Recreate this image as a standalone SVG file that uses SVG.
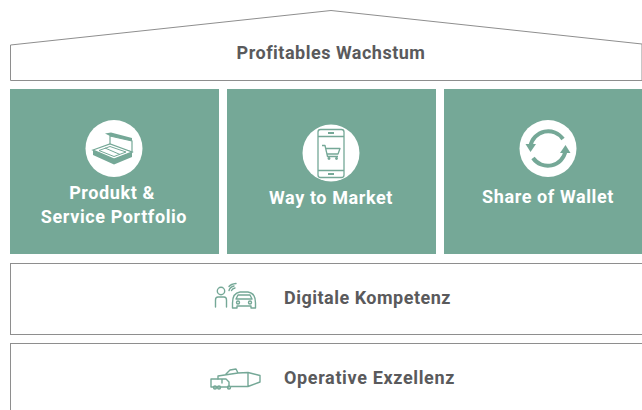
<svg xmlns="http://www.w3.org/2000/svg" width="642" height="410" viewBox="0 0 642 410">
<style>
.t{font-family:Roboto,"Liberation Sans",sans-serif;font-weight:700;font-size:18px;text-anchor:middle}
.d{fill:#5a5a5c;letter-spacing:.5px}
.w{fill:#fff;letter-spacing:.6px}
.b{fill:#fff;stroke:#8e8e8e;stroke-width:1}
.g{fill:#75a897}
.i{fill:none;stroke:#75a897;stroke-width:1.4;stroke-linejoin:round;stroke-linecap:round}
.ib{fill:none;stroke:#75a897;stroke-width:1.3;stroke-linejoin:round}
</style>
<g id="roof">
<path class="b" d="M10.500 45 L331 10.500 L642 44 V80.500 H10.500 Z"/>
<text class="t d" x="331" y="59">Profitables Wachstum</text>
</g>
<g id="produkt">
<rect class="g" x="10" y="89" width="209" height="165"/>
<circle cx="114" cy="148.500" r="28.500" fill="#fff"/>
<path d="M110 136 L132 141 V152 L110 146 Z" fill="#fff" stroke="#75a897" stroke-width="1.200"/>
<path d="M105 133.500 L111 132.500 L132 138 V141 L110 136 Z" fill="#75a897"/>
<path d="M93 150 L110 144 L132 152 L114 159 Z" fill="#fff" stroke="#75a897" stroke-width="1.300"/>
<path d="M93 150 V155 L114 164.500 L132 157 V152 L114 159 Z" fill="#75a897"/>
<path d="M99 150.500 L110 146.500 L126 152 L114 156.500 Z M105 148 L120 154.500" fill="none" stroke="#75a897" stroke-width="1"/>
<text class="t w" x="112" y="198.500">Produkt &amp;</text>
<text class="t w" x="114" y="223">Service Portfolio</text>
</g>
<g id="way">
<rect class="g" x="227" y="89" width="209" height="165"/>
<circle cx="331" cy="153" r="28.500" fill="#fff"/>
<rect class="ib" x="318" y="129.500" width="26" height="48" rx="2.500"/>
<path class="ib" d="M318 136.500 H344 M318 170.500 H344"/>
<path d="M328 133 H334 M328 174 H334" stroke="#75a897" stroke-width="1.800" fill="none"/>
<path class="ib" d="M322 145.500 H325 L327.500 156.500 H338 M326 148.500 H340 L338 154 H327.500"/>
<circle cx="329" cy="158.500" r="1.400" fill="#75a897"/>
<circle cx="336.500" cy="158.500" r="1.400" fill="#75a897"/>
<text class="t w" x="331" y="203.500">Way to Market</text>
</g>
<g id="share">
<rect class="g" x="444" y="89" width="198" height="165"/>
<circle cx="548" cy="148.500" r="28.500" fill="#fff"/>
<path d="M530.500 146 A18 18 0 0 1 563 139" fill="none" stroke="#75a897" stroke-width="4"/>
<path d="M565.500 151 A18 18 0 0 1 533 158" fill="none" stroke="#75a897" stroke-width="4"/>
<path d="M525.500 144 L536 144 L530.500 152 Z M570.500 153 L560 153 L565.500 145 Z" fill="#75a897"/>
<text class="t w" x="548" y="203">Share of Wallet</text>
</g>
<g id="digital">
<rect class="b" x="10.500" y="263.500" width="632" height="71"/>
<circle cx="221" cy="291" r="3.700" class="i"/>
<path class="i" d="M215.500 307 V300 Q215.500 297 218 297 H224 Q226.500 297 226.500 300 V307"/>
<path class="i" d="M232.500 303 Q232.500 293 240 292 H248 Q255.500 293 255.500 303 V308 H251 V306 H237 V308 H232.500 Z M236 299 L238 295 H250 L252 299 Z"/>
<circle cx="238" cy="302.500" r="1.500" class="i"/><circle cx="250" cy="302.500" r="1.500" class="i"/>
<path class="i" d="M229 290.500 Q230 287 234 286 M231.500 290.500 Q232.500 288.500 235 288 M229 286.500 Q231 284 236 283.500"/>
<text class="t d" x="367.500" y="304">Digitale Kompetenz</text>
</g>
<g id="operativ">
<rect class="b" x="10.500" y="343.500" width="632" height="72"/>
<path class="i" d="M218 379 V376 L238 373 L248 372.500 L260 375.500 V382 L248 386.500 H231 M226 374 L230 370 L236 369 L238 373 M248 372.500 V386.500"/>
<path class="i" d="M211 379 V387 H229 V382 L226 379 Z M222 379 V383"/>
<circle cx="215" cy="387.500" r="1.500" class="i" fill="#fff"/><circle cx="219" cy="387.500" r="1.500" class="i"/><circle cx="229" cy="387.500" r="1.500" class="i"/>
<text class="t d" style="letter-spacing:.65px" x="369.500" y="383.500">Operative Exzellenz</text>
</g>
</svg>
